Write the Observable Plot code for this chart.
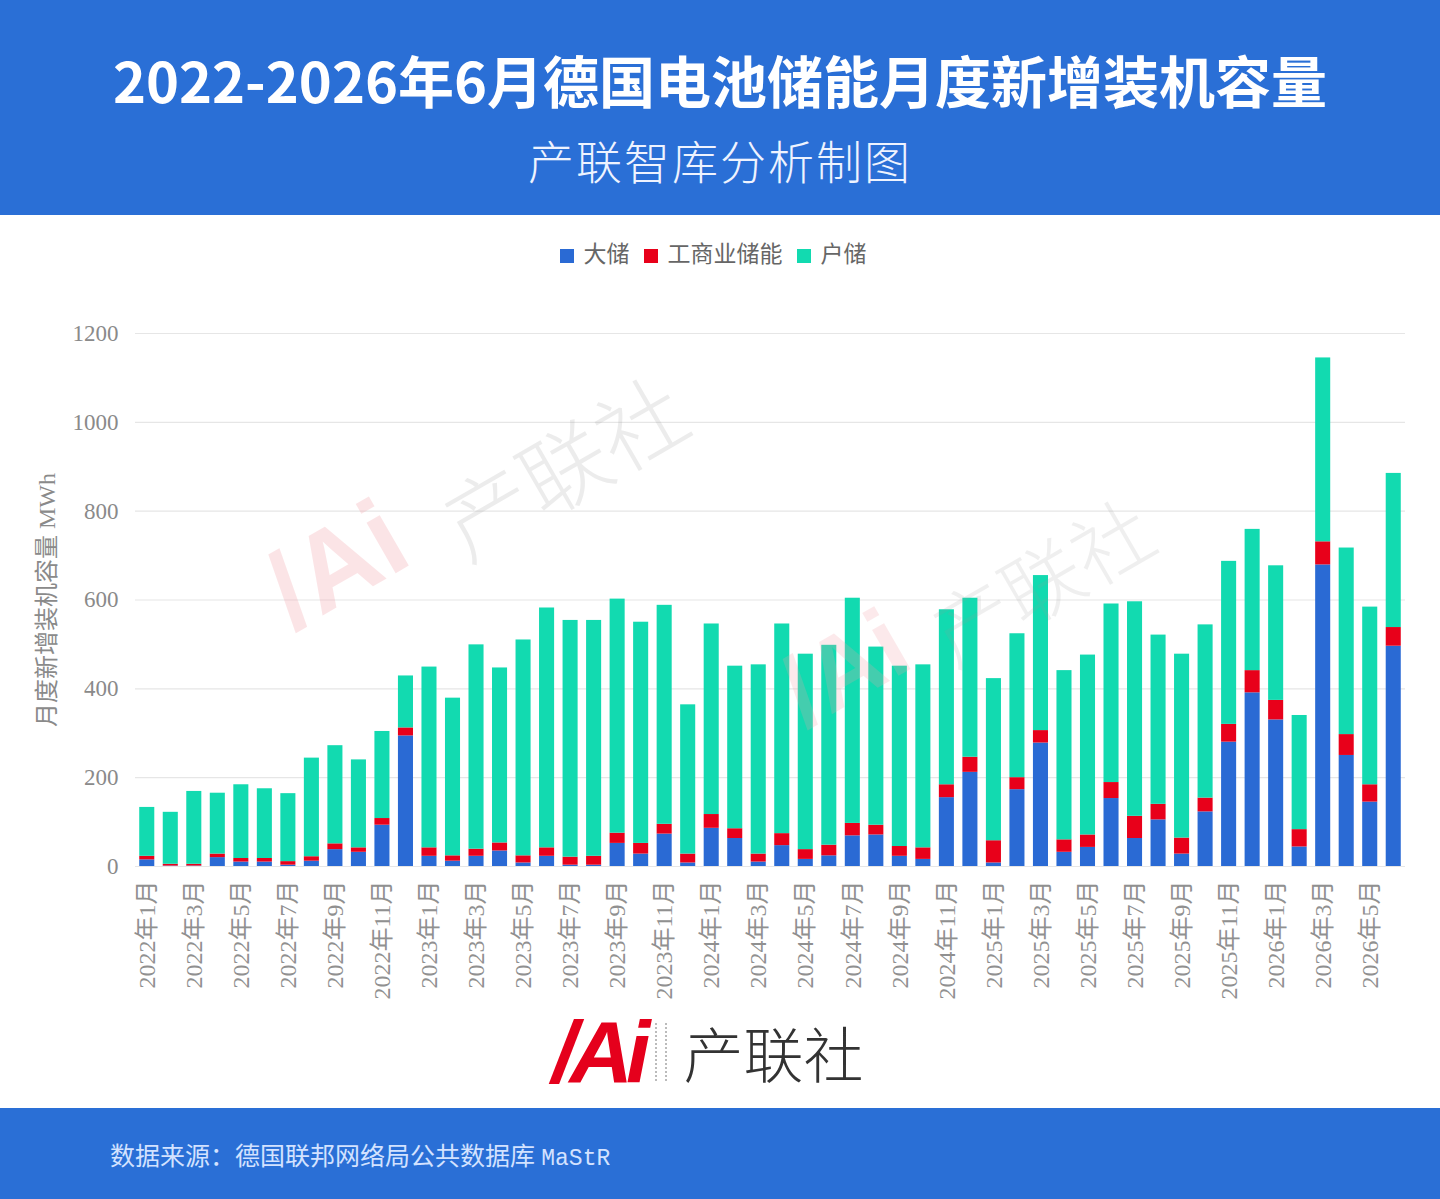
<!DOCTYPE html>
<html>
<head>
<meta charset="utf-8">
<script src="https://cdn.jsdelivr.net/npm/d3@7"></script>
<script src="https://cdn.jsdelivr.net/npm/@observablehq/plot@0.6"></script>
<style>
  html, body { margin: 0; padding: 0; background: #fff; }
  #page { position: relative; width: 1440px; height: 1199px; overflow: hidden; background: #fff; }
  #header { position: absolute; left: 0; top: 0; width: 1440px; height: 215px; background: #2a6fd6; }
  #title { position: absolute; left: 0; width: 1440px; top: 40px; text-align: center; color: #fff;
           font-family: "Noto Sans CJK SC", "Noto Sans", sans-serif; font-weight: 700; font-size: 56px; line-height: 78px; }
  #subtitle { position: absolute; left: 0; width: 1440px; top: 128px; text-align: center; color: #eef3ff;
           font-family: "Noto Sans CJK SC", sans-serif; font-weight: 300; font-size: 46px; line-height: 62px; letter-spacing: 2px; }
  #legend { position: absolute; left: 0; width: 1440px; top: 240px; text-align: center;
           font-family: "Liberation Serif", "Noto Sans CJK SC", serif; font-size: 23px; color: #666; line-height: 30px; }
  #legend span.sw { display: inline-block; width: 14px; height: 14px; margin-right: 10px; vertical-align: -1px; }
  #legend span.it { margin-right: 14px; }
  #chart { position: absolute; left: 0; top: 290px; }
  #logo { position: absolute; left: 552px; top: 1010px; height: 84px; display: flex; align-items: center; }
  #logo .mark { font-family: "Liberation Sans", Arial, sans-serif; font-weight: 700; font-style: italic; font-size: 88px;
           color: #e5001c; letter-spacing: -7px; line-height: 84px; }
  #logo .small { width: 8px; height: 58px; margin: 0 16px 0 12px; border-left: 2px dotted #bbb; border-right: 2px dotted #bbb; }
  #logo .name { font-family: "Noto Sans CJK SC", serif; font-weight: 300; font-size: 60px; color: #333; line-height: 84px; }
  #footer { position: absolute; left: 0; top: 1108px; width: 1440px; height: 91px; background: #2a6fd6; }
  #source { position: absolute; left: 110px; top: 1141px; color: #d3e2ff;
           font-family: "Liberation Serif", "Noto Sans CJK SC", serif; font-size: 25px; line-height: 32px; }
  #source .mono { font-family: "Liberation Mono", "DejaVu Sans Mono", monospace; font-size: 23px; }
  .wm { position: absolute; pointer-events: none; white-space: nowrap; }
</style>
</head>
<body>
<div id="page">
  <div id="header"></div>
  <div id="title">2022-2026年6月德国电池储能月度新增装机容量</div>
  <div id="subtitle">产联智库分析制图</div>
  <div id="legend"></div>
  <div id="chart"></div>
  <div id="logo"><span class="mark">/Ai</span><span class="small"></span><span class="name">产联社</span></div>
  <div id="footer"></div>
  <div id="source">数据来源：德国联邦网络局公共数据库 <span class="mono">MaStR</span></div>
</div>
<script>
// Month categories (x axis)
const months = [
  "2022年1月","2022年2月","2022年3月","2022年4月","2022年5月","2022年6月","2022年7月","2022年8月","2022年9月","2022年10月","2022年11月","2022年12月",
  "2023年1月","2023年2月","2023年3月","2023年4月","2023年5月","2023年6月","2023年7月","2023年8月","2023年9月","2023年10月","2023年11月","2023年12月",
  "2024年1月","2024年2月","2024年3月","2024年4月","2024年5月","2024年6月","2024年7月","2024年8月","2024年9月","2024年10月","2024年11月","2024年12月",
  "2025年1月","2025年2月","2025年3月","2025年4月","2025年5月","2025年6月","2025年7月","2025年8月","2025年9月","2025年10月","2025年11月","2025年12月",
  "2026年1月","2026年2月","2026年3月","2026年4月","2026年5月","2026年6月"
];
// Labelled ticks (every other month)
const tickMonths = [
  "2022年1月","2022年3月","2022年5月","2022年7月","2022年9月","2022年11月",
  "2023年1月","2023年3月","2023年5月","2023年7月","2023年9月","2023年11月",
  "2024年1月","2024年3月","2024年5月","2024年7月","2024年9月","2024年11月",
  "2025年1月","2025年3月","2025年5月","2025年7月","2025年9月","2025年11月",
  "2026年1月","2026年3月","2026年5月"
];
const yTicks = [0, 200, 400, 600, 800, 1000, 1200];

const seriesNames = ["大储", "工商业储能", "户储"];
const seriesColors = ["#2a6ad4", "#e8001a", "#12dab0"];

// 大储 (utility-scale), MWh
const utility = [
  15, 1, 1, 20, 10, 10, 3, 12, 38, 32, 93, 294,
  23, 12, 23, 35, 8, 23, 3, 3, 52, 28, 73, 8,
  86, 63, 10, 47, 16, 24, 69, 71, 23, 16, 155, 212,
  8, 173, 278, 32, 43, 153, 63, 105, 28, 123, 280, 391,
  330, 44, 679, 250, 145, 496
];
// 工商业储能 (C&I), MWh
const commercial = [
  8, 4, 4, 8, 8, 8, 8, 10, 13, 10, 15, 18,
  19, 12, 16, 18, 16, 19, 18, 20, 23, 24, 22, 20,
  31, 22, 18, 27, 22, 24, 28, 22, 22, 26, 29, 34,
  50, 27, 28, 28, 28, 36, 50, 35, 36, 31, 40, 50,
  44, 39, 52, 47, 39, 42
];
// 户储 (residential), MWh
const residential = [
  110, 117, 164, 137, 166, 157, 153, 222, 221, 198, 196, 117,
  407, 355, 460, 394, 486, 540, 533, 531, 527, 498, 493, 336,
  429, 366, 426, 472, 440, 450, 507, 401, 406, 412, 394, 358,
  365, 324, 349, 381, 405, 402, 483, 381, 414, 390, 367, 318,
  303, 257, 414, 420, 400, 347
];

// Long table for stacking (order: 大储 bottom, 工商业储能, 户储 top)
const seriesValues = [utility, commercial, residential];
const table = [];
months.forEach((m, i) => {
  seriesNames.forEach((s, j) => table.push({month: m, series: s, value: seriesValues[j][i]}));
});

// Legend
const legend = document.getElementById("legend");
legend.innerHTML = seriesNames.map((s, j) =>
  `<span class="sw" style="background:${seriesColors[j]}"></span><span class="it">${s}</span>`).join("");

const W = 1440, H = 725;
const chart = Plot.plot({
  width: W,
  height: H,
  marginLeft: 135,
  marginRight: 35,
  marginTop: 43,
  marginBottom: 149,
  style: {fontFamily: "'Liberation Serif', 'Noto Sans CJK SC', serif", fontSize: "22px", color: "#8a8a8a", background: "transparent"},
  x: {domain: months, paddingInner: 0.36, paddingOuter: 0.18, round: false, label: null},
  y: {domain: [0, 1200], label: null},
  color: {domain: seriesNames, range: seriesColors},
  marks: [
    Plot.gridY(yTicks, {stroke: "#e6e6e6", strokeOpacity: 1, strokeWidth: 1.2}),
    Plot.barY(table, {x: "month", y: "value", fill: "series", order: seriesNames}),
    Plot.axisY(yTicks, {tickSize: 0, tickPadding: 17, fontSize: 23, fill: "#8a8a8a", tickFormat: d => String(d),
      label: "月度新增装机容量 MWh", labelAnchor: "center", labelArrow: "none", labelOffset: 98}),
    Plot.axisX(tickMonths, {tickSize: 0, tickRotate: -90, tickPadding: 14, fontSize: 24, fill: "#909090", label: null}),
    Plot.ruleY([0], {stroke: "#e6e6e6"})
  ]
});
document.getElementById("chart").appendChild(chart);
// enlarge y axis title
chart.querySelectorAll("g[aria-label='y-axis label'] text").forEach(t => t.setAttribute("font-size", "24"));

// Faint watermarks
const page = document.getElementById("page");
function wm(text, left, top, size, color, opacity, rot, weight, family) {
  const d = document.createElement("div");
  d.className = "wm";
  d.textContent = text;
  d.style.left = left + "px"; d.style.top = top + "px";
  d.style.fontSize = size + "px"; d.style.color = color; d.style.opacity = opacity;
  d.style.transform = `rotate(${rot}deg)`; d.style.fontWeight = weight;
  d.style.fontFamily = family;
  page.appendChild(d);
}
wm("/Ai", 265, 500, 110, "#f4a0a8", 0.28, -30, 700, "'Liberation Sans', sans-serif");
wm("产联社", 430, 400, 88, "#999", 0.18, -30, 300, "'Noto Sans CJK SC', serif");
wm("/Ai", 780, 610, 100, "#f4a0a8", 0.22, -30, 700, "'Liberation Sans', sans-serif");
wm("产联社", 920, 520, 80, "#999", 0.15, -30, 300, "'Noto Sans CJK SC', serif");
</script>
</body>
</html>
